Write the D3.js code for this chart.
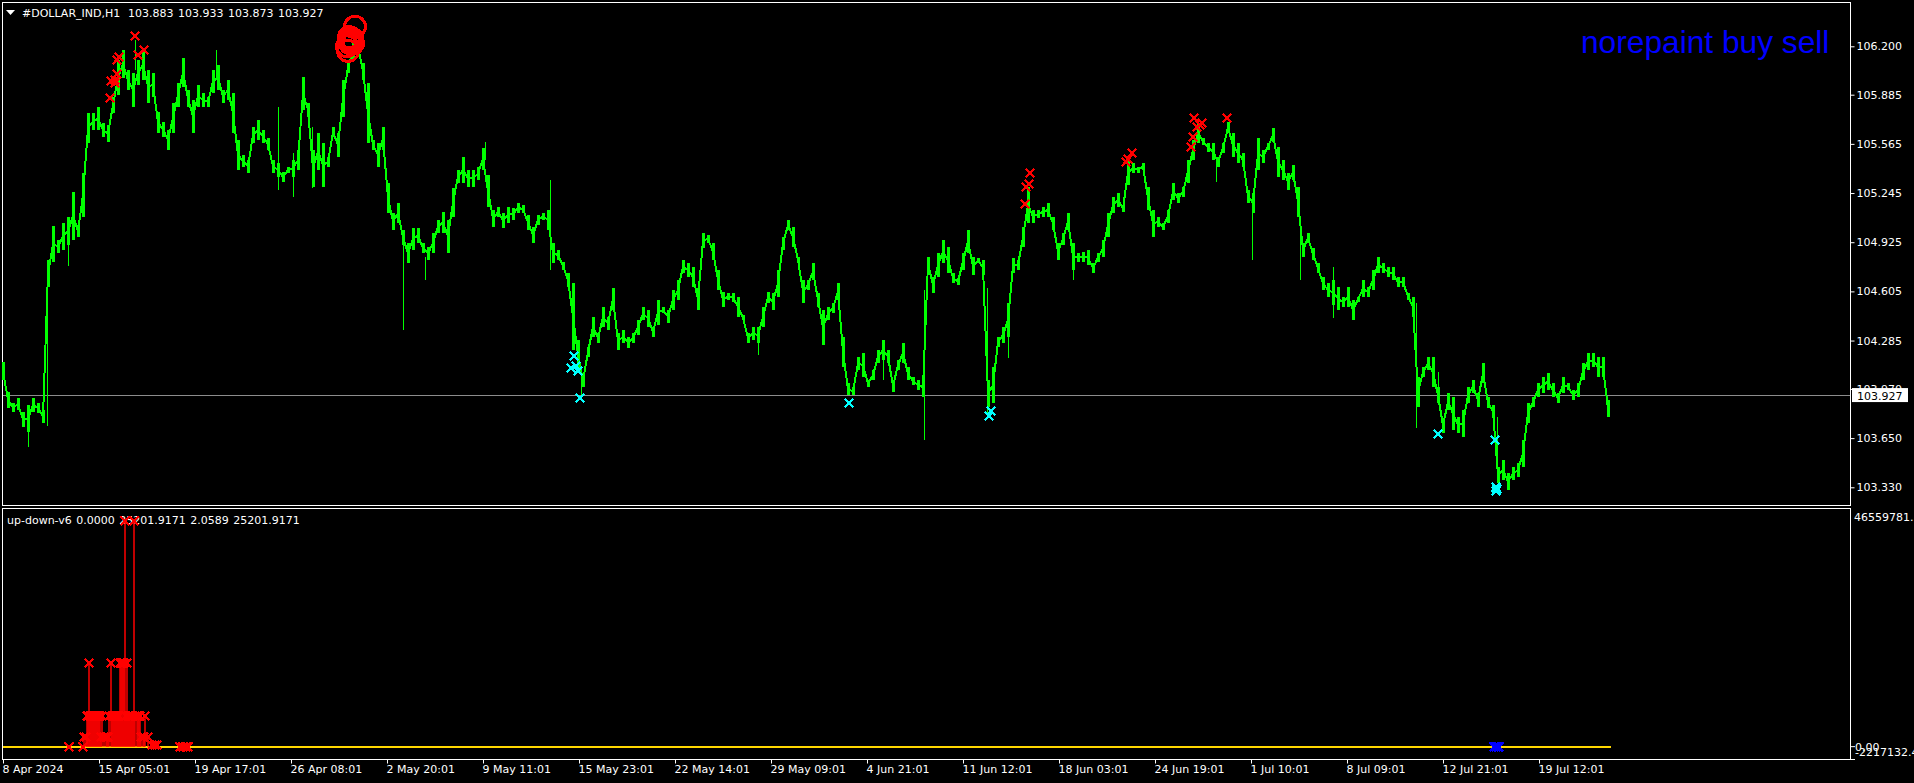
<!DOCTYPE html>
<html>
<head>
<meta charset="utf-8">
<title>#DOLLAR_IND,H1</title>
<script src="https://cdn.jsdelivr.net/npm/d3@7"></script>
<style>
  html,body{margin:0;padding:0;background:#000;overflow:hidden;}
  text{font-family:"DejaVu Sans",sans-serif;font-size:11px;fill:#fff;}
</style>
</head>
<body>
<div id="chart"></div>
<script>
// one high/low pair for every 5 H1 bars
var barStep = 5;
var barHigh = [
  104.145,103.95,103.878,103.911,103.82,103.865,103.911,103.878,103.833,104.809,
  105.03,104.939,105.05,105.09,105.252,105.037,105.376,105.766,105.766,105.805,
  105.7,105.688,105.87,106.111,106.176,106.046,106.026,106.111,106.176,106.046,
  106.026,105.772,105.707,105.655,105.832,105.961,106.124,105.916,105.851,105.948,
  105.896,105.87,106.046,106.078,105.916,105.981,105.896,105.59,105.492,105.46,
  105.675,105.72,105.655,105.603,105.46,105.44,105.382,105.414,105.46,105.525,
  106,105.832,105.525,105.635,105.57,105.479,105.675,105.635,105.981,106.098,
  106.241,106.241,106.091,105.961,105.59,105.57,105.675,105.31,105.115,105.18,
  105.004,104.92,105.017,105.017,104.92,104.894,104.985,105.07,105.122,105.07,
  105.278,105.395,105.479,105.395,105.395,105.414,105.538,105.362,105.135,105.154,
  105.115,105.154,105.148,105.18,105.167,105.102,105.024,105.102,105.115,105.135,
  104.92,104.874,104.796,104.724,104.659,104.289,104.072,104.243,104.438,104.334,
  104.503,104.438,104.627,104.334,104.354,104.308,104.334,104.419,104.503,104.484,
  104.373,104.549,104.503,104.484,104.614,104.679,104.809,104.789,104.763,104.627,
  104.985,104.972,104.92,104.744,104.601,104.594,104.594,104.568,104.451,104.334,
  104.373,104.373,104.503,104.601,104.594,104.744,104.959,105.07,105.024,104.828,
  104.679,104.679,104.789,104.594,104.484,104.503,104.53,104.659,104.308,104.008,
  103.98,104.177,104.203,104.028,104.093,104.223,104.289,104.223,104.028,104.158,
  104.269,104.112,104.047,104.028,104.047,104.828,104.698,104.854,104.939,104.894,
  104.724,104.692,104.854,105.004,104.828,104.822,104.809,104.028,104.112,104.308,
  104.373,104.53,104.822,104.809,105.024,105.285,105.135,105.135,105.154,105.18,
  105.09,104.92,104.985,105.115,104.92,104.854,104.861,104.874,104.789,104.854,
  104.939,105.115,105.219,105.245,105.167,105.46,105.44,105.414,105.44,105.285,
  105.135,105.09,105.05,105.135,105.31,105.245,105.285,105.46,105.59,105.7,
  105.603,105.57,105.57,105.479,105.57,105.707,105.635,105.57,105.505,105.265,
  105.245,105.603,105.525,105.57,105.668,105.544,105.46,105.376,105.427,105.285,
  104.92,104.985,104.887,104.789,104.698,104.659,104.679,104.633,104.568,104.633,
  104.549,104.568,104.679,104.633,104.744,104.828,104.789,104.763,104.763,104.698,
  104.698,104.594,104.568,104.047,104.112,104.177,104.177,103.98,103.781,103.943,
  103.917,103.787,103.833,103.98,104.028,103.943,104.138,103.917,103.865,103.463,
  103.508,103.423,103.463,103.488,103.638,103.878,103.917,104.008,104.047,104.072,
  104.008,103.943,104.047,104.008,103.963,104.008,104.138,104.203,104.203,104.177,
  104.177,103.898
];
var barLow = [
  104.028,103.846,103.82,103.833,103.722,103.69,103.82,103.813,103.748,104.634,
  104.796,104.854,104.874,104.907,104.939,104.959,105.09,105.57,105.655,105.655,
  105.61,105.577,105.766,105.883,105.994,105.916,105.805,105.948,105.981,105.832,
  105.87,105.635,105.61,105.525,105.635,105.805,105.935,105.805,105.635,105.805,
  105.805,105.805,105.896,105.916,105.832,105.851,105.635,105.395,105.414,105.376,
  105.57,105.59,105.57,105.525,105.376,105.35,105.317,105.376,105.35,105.395,
  105.785,105.74,105.285,105.395,105.285,105.414,105.61,105.479,105.74,106.026,
  106.111,106.156,105.981,105.57,105.525,105.414,105.525,105.115,105.004,105.05,
  104.907,104.789,104.874,104.92,104.854,104.809,104.854,104.985,104.985,104.854,
  105.09,105.31,105.31,105.285,105.285,105.33,105.395,105.154,105.024,105.09,
  105.017,105.05,105.07,105.115,105.115,105.004,104.92,105.037,105.07,105.004,
  104.789,104.809,104.744,104.633,104.223,104.093,103.98,104.177,104.308,104.269,
  104.373,104.354,104.484,104.223,104.269,104.236,104.269,104.321,104.419,104.373,
  104.308,104.386,104.464,104.399,104.484,104.549,104.724,104.698,104.633,104.484,
  104.887,104.92,104.809,104.614,104.503,104.549,104.536,104.438,104.419,104.269,
  104.289,104.269,104.373,104.53,104.484,104.568,104.874,105.004,104.894,104.789,
  104.53,104.614,104.679,104.503,104.256,104.419,104.464,104.549,104.112,103.93,
  103.93,104.093,104.047,103.98,104.028,104.138,104.158,104.138,103.95,104.093,
  104.138,104.028,103.995,103.963,103.917,104.744,104.594,104.698,104.789,104.724,
  104.659,104.646,104.744,104.854,104.711,104.789,104.711,103.852,103.878,104.243,
  104.269,104.308,104.724,104.744,104.894,105.05,105.05,105.083,105.09,105.09,
  105.004,104.809,104.907,105.004,104.744,104.796,104.796,104.776,104.724,104.796,
  104.828,104.959,105.115,105.154,105.122,105.297,105.376,105.376,105.395,105.135,
  104.959,105.024,105.004,105.05,105.2,105.18,105.219,105.31,105.46,105.57,
  105.557,105.512,105.46,105.414,105.505,105.635,105.479,105.44,105.414,105.18,
  105.115,105.395,105.44,105.525,105.577,105.35,105.33,105.265,105.33,105.09,
  104.828,104.92,104.809,104.724,104.614,104.568,104.516,104.484,104.503,104.503,
  104.419,104.536,104.568,104.568,104.614,104.724,104.724,104.698,104.679,104.633,
  104.633,104.549,104.438,103.852,104.047,104.093,103.98,103.878,103.683,103.833,
  103.703,103.683,103.657,103.878,103.943,103.852,104.008,103.846,103.781,103.358,
  103.377,103.312,103.377,103.397,103.463,103.748,103.852,103.917,103.943,103.963,
  103.917,103.878,103.943,103.963,103.898,103.917,104.028,104.093,104.112,104.047,
  104.047,103.787
];
// long wicks, drawn thin: bar, high, low
var spikeBars = [44,65,25,132,213,275,290,309,400,422,482,547,578,755,880,921,984,1005,1070,1213,1249,1297,1330,1413,1435,1494];
var spikeHigh = [104.549,105.09,103.865,106.241,106.176,105.805,105.505,105.675,105.004,104.828,105.577,105.33,104.072,104.289,104.289,104.614,104.627,104.53,104.92,105.479,105.245,105.09,104.763,104.53,104.079,103.787];
var spikeLow  = [103.729,104.77,103.59,106.046,105.981,105.265,105.219,105.278,104.354,104.679,105.46,104.744,103.93,104.19,104.028,103.638,103.807,104.171,104.679,105.317,104.809,104.679,104.432,103.716,103.898,103.358];

// signal arrows of the chart window
var redBars  = [132,141,135,116,114,114,112,108,112,107,1027,1026,1023,1022,1129,1123,1125,1191,1199,1194,1197,1190,1188,1224];
var redPrice = [106.267,106.176,106.143,106.13,106.111,106.02,105.981,105.974,105.961,105.864,105.376,105.304,105.285,105.174,105.505,105.447,105.466,105.733,105.7,105.675,105.688,105.61,105.544,105.733];
var cyanBars  = [571,568,573,575,577,846,988,986,1435,1492,1493,1493,1494];
var cyanPrice = [104.184,104.106,104.119,104.086,103.911,103.878,103.826,103.794,103.677,103.638,103.33,103.305,103.318];
var ringBars  = [352,345,346,349,347,347,344,350];
var ringPrice = [106.327,106.17,106.26,106.25,106.24,106.22,106.2,106.22];

// indicator window (up-down-v6)
var upBars = [66,80,81,83,84,85,86,87,88,89,90,91,92,93,94,95,96,97,98,99,101,103,104,105,106,108,109,110,111,112,113,114,115,116,117,118,119,120,121,122,123,124,125,126,127,128,129,130,131,132,134,135,136,137,138,140,141,142,145,149,152,154,177,180,183,185];
var upValue = [0,0,1.97e6,1.97e6,6.22e6,6.22e6,16.97e6,6.22e6,6.22e6,6.22e6,6.22e6,6.22e6,6.22e6,6.22e6,6.22e6,6.22e6,6.22e6,6.22e6,1.97e6,6.22e6,1.97e6,1.97e6,1.97e6,1.97e6,6.22e6,16.97e6,6.22e6,6.22e6,6.22e6,6.22e6,6.22e6,6.22e6,6.22e6,6.22e6,16.97e6,16.97e6,16.97e6,16.97e6,16.97e6,45.8e6,6.22e6,16.97e6,6.22e6,6.22e6,6.22e6,6.22e6,6.22e6,6.22e6,45.8e6,6.22e6,6.22e6,6.22e6,6.22e6,6.22e6,1.97e6,1.97e6,1.97e6,6.22e6,1.97e6,0.3e6,0.3e6,0.3e6,0,0,0,0];
var downBars = [1491,1493,1495,1496];
var downValue = [0,0,0,0];

var priceTicks = [106.2,105.885,105.565,105.245,104.925,104.605,104.285,103.97,103.65,103.33];
var timeBars = [0,96,192,288,384,480,576,672,768,864,960,1056,1152,1248,1344,1440,1536];
var timeLabels = ["8 Apr 2024","15 Apr 05:01","19 Apr 17:01","26 Apr 08:01","2 May 20:01","9 May 11:01","15 May 23:01","22 May 14:01","29 May 09:01","4 Jun 21:01","11 Jun 12:01","18 Jun 03:01","24 Jun 19:01","1 Jul 10:01","8 Jul 09:01","12 Jul 21:01","19 Jul 12:01"];
var lastPrice = 103.927;
var lastBar = 1608;
var subMax = 46559781;
var subMin = -2217132.4;

var width = 1914, height = 783;
var svg = d3.select("#chart").append("svg")
  .attr("width", width).attr("height", height)
  .style("display", "block").style("background", "#000");

var xBar = d3.scaleLinear().domain([0, lastBar]).range([3, 1611]);
var yPrice = d3.scaleLinear().domain([103.33, 106.2]).range([487.3, 46.3]);
var ySub = d3.scaleLinear().domain([subMin, subMax]).range([757.6, 517]);

// pane frames
var frames = [[2.5, 2.5, 1848, 503], [2.5, 508.5, 1848, 251]];
svg.selectAll("rect.frame").data(frames).enter().append("rect")
  .attr("class", "frame")
  .attr("x", function(d){ return d[0]; }).attr("y", function(d){ return d[1]; })
  .attr("width", function(d){ return d[2]; }).attr("height", function(d){ return d[3]; })
  .attr("fill", "none").attr("stroke", "#fff");

// price axis
var priceAxis = d3.axisRight(yPrice).tickValues(priceTicks).tickSize(4).tickPadding(2)
  .tickFormat(d3.format(".3f"));
var gPrice = svg.append("g").attr("transform", "translate(1850.5,0)").call(priceAxis);
gPrice.select(".domain").remove();
gPrice.selectAll("line").attr("stroke", "#fff");
gPrice.selectAll("text").attr("font-family", "DejaVu Sans").attr("font-size", 11);

// time axis
var timeAxis = d3.axisBottom(xBar).tickValues(timeBars).tickSize(4).tickPadding(2)
  .tickFormat(function(d, i){ return timeLabels[i]; });
var gTime = svg.append("g").attr("transform", "translate(0,759.5)").call(timeAxis);
gTime.select(".domain").remove();
gTime.selectAll("line").attr("stroke", "#fff");
gTime.selectAll("text").attr("font-family", "DejaVu Sans").attr("font-size", 11)
  .attr("text-anchor", "start").attr("dx", -1);

// current price line + label
svg.append("line")
  .attr("x1", 3).attr("x2", 1850)
  .attr("y1", Math.floor(yPrice(lastPrice)) + 0.5).attr("y2", Math.floor(yPrice(lastPrice)) + 0.5)
  .attr("stroke", "#8c8c8c");
svg.append("rect").attr("x", 1852).attr("y", yPrice(lastPrice) - 7.5).attr("width", 56).attr("height", 14).attr("fill", "#fff");
svg.append("text").attr("x", 1857).attr("y", yPrice(lastPrice) + 4).style("fill", "#000").text(d3.format(".3f")(lastPrice));

// price bars, narrow so the high/low jitter shows
var barIdx = d3.range(barHigh.length);
svg.append("g").selectAll("rect").data(barIdx).enter().append("rect")
  .attr("x", function(i){ return xBar(i * barStep) - 1; })
  .attr("y", function(i){ return yPrice(barHigh[i]); })
  .attr("width", 3)
  .attr("height", function(i){ return yPrice(barLow[i]) - yPrice(barHigh[i]); })
  .attr("fill", "#00ff00").attr("shape-rendering", "crispEdges");
var midLine = d3.line()
  .x(function(i){ return xBar(i * barStep); })
  .y(function(i){ return yPrice((barHigh[i] + barLow[i]) / 2); });
svg.append("path").attr("d", midLine(barIdx)).attr("fill", "none").attr("stroke", "#00ff00").attr("stroke-width", 2)
  .attr("shape-rendering", "crispEdges");
svg.append("g").selectAll("line").data(spikeBars).enter().append("line")
  .attr("x1", function(d){ return xBar(d) + 0.5; }).attr("x2", function(d){ return xBar(d) + 0.5; })
  .attr("y1", function(d, i){ return yPrice(spikeHigh[i]); })
  .attr("y2", function(d, i){ return yPrice(spikeLow[i]); })
  .attr("stroke", "#00ff00").attr("shape-rendering", "crispEdges");

// arrows
var crossPath = d3.symbol().type(d3.symbolX).size(52)();
function crosses(bars, values, y, color) {
  svg.append("g").selectAll("path").data(bars).enter().append("path")
    .attr("d", crossPath)
    .attr("transform", function(d, i){ return "translate(" + xBar(d) + "," + y(values[i]) + ")"; })
    .attr("fill", "none").attr("stroke", color).attr("stroke-width", 2.2)
    .attr("shape-rendering", "crispEdges");
}
svg.append("g").selectAll("circle").data(ringBars).enter().append("circle")
  .attr("cx", function(d){ return xBar(d); })
  .attr("cy", function(d, i){ return yPrice(ringPrice[i]); })
  .attr("r", 10.5)
  .attr("fill", "none").attr("stroke", "#ff0000").attr("stroke-width", 3)
  .attr("shape-rendering", "crispEdges");
crosses(redBars, redPrice, yPrice, "#ff0000");
crosses(cyanBars, cyanPrice, yPrice, "#00ffff");

// header texts
svg.append("path").attr("d", "M6,10H15L10.5,15Z").attr("fill", "#fff");
svg.append("text").attr("x", 22).attr("y", 16.5).text("#DOLLAR_IND,H1");
svg.append("text").attr("x", 128).attr("y", 16.5).style("word-spacing", "1px").text("103.883 103.933 103.873 103.927");
svg.append("text").attr("x", 1581).attr("y", 53)
  .style("font-family", '"Liberation Sans",Arial,sans-serif').style("font-size", "31.7px").style("fill", "#0000ff")
  .text("norepaint buy sell");

// indicator window
svg.append("text").attr("x", 7).attr("y", 524).style("word-spacing", "1px").text("up-down-v6 0.0000 25201.9171 2.0589 25201.9171");
svg.append("line")
  .attr("x1", xBar(0)).attr("x2", xBar(lastBar))
  .attr("y1", Math.round(ySub(0))).attr("y2", Math.round(ySub(0)))
  .attr("stroke", "#ffd700").attr("stroke-width", 2);
svg.append("g").selectAll("line").data(upBars).enter().append("line")
  .attr("x1", function(d){ return xBar(d); }).attr("x2", function(d){ return xBar(d); })
  .attr("y1", ySub(0))
  .attr("y2", function(d, i){ return ySub(upValue[i]); })
  .attr("stroke", "#ff0000").attr("stroke-width", 1.5);
crosses(upBars, upValue, ySub, "#ff0000");
crosses(downBars, downValue, ySub, "#0000ff");

// indicator scale labels
var subLabels = svg.append("g");
subLabels.append("text").attr("x", 1854).attr("y", ySub(subMax) + 4).text("46559781.");
subLabels.append("text").attr("x", 1855).attr("y", ySub(0) + 4).text("0.00");
subLabels.append("text").attr("x", 1855).attr("y", 756).text("-2217132.4");
svg.append("line").attr("x1", 1851).attr("x2", 1855).attr("y1", ySub(0)).attr("y2", ySub(0)).attr("stroke", "#fff");
svg.append("line").attr("x1", 1851).attr("x2", 1855).attr("y1", 759.5).attr("y2", 759.5).attr("stroke", "#fff");
</script>
</body>
</html>
